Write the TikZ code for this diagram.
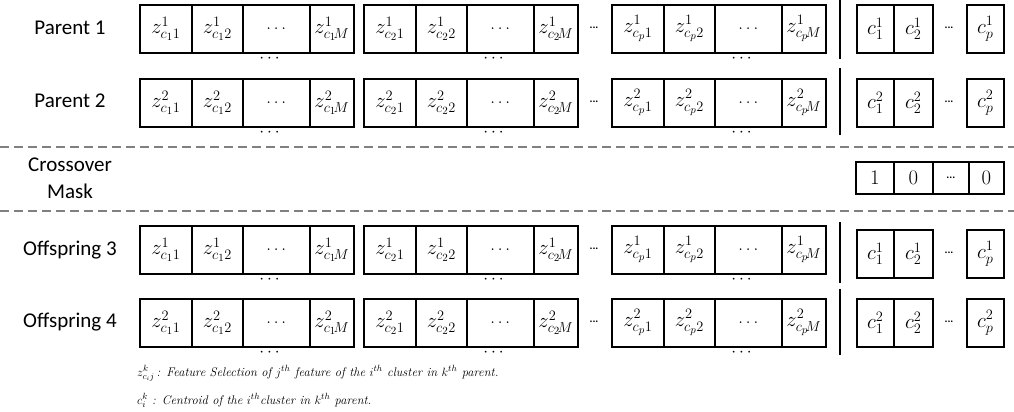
\documentclass[tikz,border=0pt]{standalone}
\usepackage{fontspec}
\newfontfamily\labfont{Carlito}
\begin{document}
\begin{tikzpicture}[x=1pt,y=-1pt,
  cell/.style={draw, line width=1.6pt, minimum height=48pt, inner sep=0pt, anchor=north west, font=\fontsize{21}{21}\selectfont},
  mcell/.style={draw, line width=1.6pt, minimum height=32pt, inner sep=0pt, anchor=north west, font=\fontsize{20}{20}\selectfont},
  lbl/.style={font=\labfont\fontsize{21}{27}\selectfont, align=center},
  sdots/.style={font=\labfont\bfseries\fontsize{11}{11}\selectfont, inner sep=0pt},
  udots/.style={font=\fontsize{16}{16}\selectfont, inner sep=0pt},
  sepline/.style={draw=black!50, line width=1.8pt, dash pattern=on 9pt off 5pt},
  barline/.style={line width=2.2pt},
  note/.style={font=\fontsize{12.5}{14}\selectfont\itshape, anchor=base west, inner sep=0pt}
]
\useasboundingbox (0,0) rectangle (1014,412);

% row labels
\node[lbl] (lp1) at (70,28) {Parent 1};
\node[lbl] (lp2) at (70,101) {Parent 2};
\node[lbl] (lcm) at (70,178) {Crossover\\Mask};
\node[lbl] (lo3) at (70,250) {Offspring 3};
\node[lbl] (lo4) at (70,322) {Offspring 4};

% feature-selection groups
\foreach \r/\t/\k/\ct in {1/4/1/4, 2/78/2/78, 3/225/1/229, 4/298/2/298} {
  \foreach \g/\x/\s in {1/139/1, 2/363/2, 3/611/p} {
    \node[cell, minimum width=52pt] (r\r g\g a) at (\x,\t) {$z^{\k}_{c_{\s}1}$};
    \node[cell, minimum width=51pt] (r\r g\g b) at (\x+52,\t) {$z^{\k}_{c_{\s}2}$};
    \node[cell, minimum width=67pt, font=\fontsize{18}{18}\selectfont] (r\r g\g c) at (\x+103,\t) {$\ldots$};
    \node[cell, minimum width=44pt] (r\r g\g d) at (\x+170,\t) {$z^{\k}_{c_{\s}\!M}$};
    \node[udots] (r\r g\g u) at (\x+130.5,\t+55) {$\cdots$};
  }
  \node[sdots] (r\r gd) at (594,\t+24) {...};
  % centroids
  \node[cell, minimum width=37pt] (r\r ca) at (856,\ct) {$c^{\k}_1$};
  \node[cell, minimum width=39pt] (r\r cb) at (893,\ct) {$c^{\k}_2$};
  \node[sdots] (r\r cd) at (949,\ct+24) {...};
  \node[cell, minimum width=37pt] (r\r cp) at (966,\ct) {$c^{\k}_p$};
}

% separator bars
\draw[barline] (840,0) -- (840,59);
\draw[barline] (840,68) -- (840,135);
\draw[barline] (840,222) -- (840,283);
\draw[barline] (840,289) -- (840,355);

% dashed separators
\draw[sepline] (0,147) -- (1014,147);
\draw[sepline] (0,211) -- (1014,211);

% crossover mask
\node[mcell, minimum width=38pt] (m1) at (855,161) {$1$};
\node[mcell, minimum width=39pt] (m2) at (893,161) {$0$};
\node[mcell, minimum width=36pt] (m3) at (932,161) {\labfont\bfseries\fontsize{11}{11}\selectfont ...};
\node[mcell, minimum width=35pt] (m4) at (968,161) {$0$};

% notes
\node[note] (n1) at (137,376) {$z^{k}_{c_i j}$\,: Feature Selection of $j^{th}$ feature of the $i^{th}$ cluster in $k^{th}$ parent.};
\node[note] (n2) at (137,404) {$c^{k}_{i}$ : Centroid of the $i^{th}$cluster in $k^{th}$ parent.};
\end{tikzpicture}
\end{document}
